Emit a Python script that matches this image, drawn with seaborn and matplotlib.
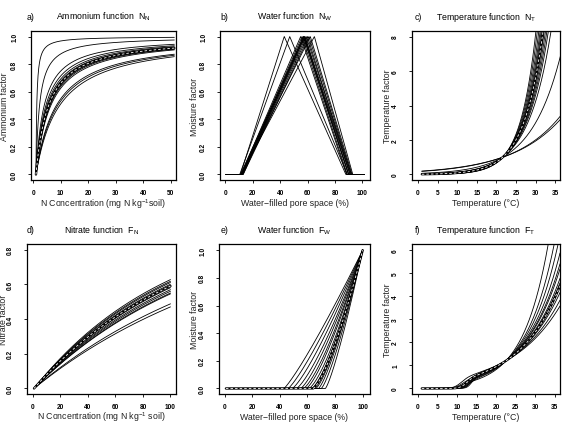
import numpy as np
import pandas as pd
import matplotlib.pyplot as plt
import seaborn as sns

# ---- values (one entry per curve) ----
# a) ammonium function N_N : half-saturation constants, curves start at N = 1
nh4_k = [0.3, 1.3, 3.0, 3.6, 4.0, 4.3, 4.5, 4.7, 4.9, 5.1, 5.4, 7.4, 7.9, 8.6]
nh4_k_mean = 4.6

# b) water function N_W : lower limit / optimum / upper limit of WFPS (%)
nw_low = [11, 10.5, 11.5, 12, 11, 12.5, 12, 11.5, 13, 12, 12.5, 13, 12, 11.5]
nw_opt = [43, 47, 55, 56, 57, 57, 57.5, 58, 58, 59, 60, 61, 62, 65]
nw_high = [88, 89, 88.5, 89, 90, 90, 91, 90, 91.5, 92, 91, 92, 92.5, 93]

# c) temperature function N_T : exponential rates, all curves = 1 at 21.6 C
nt_rate = [0.079, 0.083, 0.131, 0.172, 0.182, 0.188, 0.194, 0.2, 0.205, 0.21,
           0.216, 0.222, 0.23, 0.24, 0.25]
nt_rate_mean = 0.206
nt_tref = 21.6

# d) nitrate function F_N : saturation rates
no3_k = [0.00996, 0.0097, 0.00952, 0.00926, 0.00877, 0.0085, 0.00829,
         0.00806, 0.00795, 0.00675, 0.00641]
no3_k_mean = 0.009

# e) water function F_W : threshold WFPS (%) and curvature
fw_t0 = [43, 46, 49, 52, 55, 57, 59, 61, 63, 66, 68, 70, 73]
fw_pow = [1.15, 1.2, 1.25, 1.3, 1.3, 1.35, 1.35, 1.4, 1.4, 1.35, 1.3, 1.3, 1.25]
fw_t0_mean, fw_pow_mean = 64, 1.4

# f) temperature function F_T : rate, low-temperature cut-off centre and width
ft_rate = [0.153, 0.134, 0.124, 0.115, 0.109, 0.106, 0.1, 0.097, 0.09, 0.084, 0.079]
ft_mid = [10.8, 12.6, 11.4, 13.2, 11.9, 13.6, 11.2, 12.9, 12.2, 13.4, 10.9]
ft_width = [0.9, 0.8, 1.0, 0.7, 0.9, 0.6, 1.1, 0.8, 0.9, 0.7, 1.0]
ft_rate_mean, ft_mid_mean, ft_width_mean = 0.095, 12.3, 0.9
ft_tref, ft_fref = 22.5, 1.2


def f_nh4(n, k):
    return (n - 1) / (n - 1 + k)


def f_nw(w, lo, opt, hi):
    return np.interp(w, [lo, opt, hi], [0, 1, 0], left=0, right=0)


def f_nt(t, r):
    return np.exp(r * (t - nt_tref))


def f_no3(n, k):
    return 1 - np.exp(-k * (n - 1))


def f_fw(w, t0, p):
    return np.clip((w - t0) / (100 - t0), 0, None) ** p


def f_ft(t, r, m, s):
    return ft_fref * np.exp(r * (t - ft_tref)) / (1 + np.exp(-(t - m) / s))


def long_df(x, ys):
    return pd.DataFrame({"x": np.tile(x, len(ys)),
                         "y": np.concatenate(ys),
                         "curve": np.repeat(np.arange(len(ys)), len(x))})


def draw(ax, x, ys, mean=None):
    sns.lineplot(data=long_df(x, ys), x="x", y="y", units="curve", estimator=None,
                 color="black", lw=0.6, ax=ax, legend=False)
    if mean is not None:
        ax.plot(x, mean, color="black", lw=1.7)
        ax.plot(x, mean, color="white", lw=0.6, dashes=(3, 2.5))


sns.set_theme(style="ticks")
plt.rcParams["font.family"] = ["Liberation Sans", "DejaVu Sans"]
plt.rcParams["axes.edgecolor"] = "black"
plt.rcParams["text.color"] = "black"

W, H = 567, 427
fig = plt.figure(figsize=(W / 100, H / 100), dpi=100)


def box(l, r, t, b):
    return [l / W, 1 - b / H, (r - l) / W, (b - t) / H]


def style(ax, xlim, ylim, xticks, yticks, yfmt, xlabel, ylabel, letter, title,
          ylab_x, xlab_y, title_y, letter_x=0.0):
    ax.set_xlim(xlim)
    ax.set_ylim(ylim)
    ax.set_xticks(xticks)
    ax.set_xticklabels([str(v) for v in xticks])
    ax.set_yticks(yticks)
    ax.set_yticklabels([yfmt % v for v in yticks])
    ax.tick_params(length=2.2, width=0.6, direction="out", labelsize=4.7,
                   colors="black")
    ax.tick_params(axis="x", pad=4.3)
    ax.tick_params(axis="y", pad=7.0, labelrotation=90)
    for lab in ax.get_xticklabels() + ax.get_yticklabels():
        lab.set_fontweight("bold")
    for lab in ax.get_yticklabels():
        lab.set_va("center")
    for sp in ax.spines.values():
        sp.set_visible(True)
        sp.set_linewidth(0.9)
        sp.set_color("black")
    ax.set_xlabel(xlabel, fontsize=6.3, color="#222222")
    ax.set_ylabel(ylabel, fontsize=6.3, color="#222222")
    ax.xaxis.label.set_va("center")
    ax.yaxis.label.set_va("center")
    ax.xaxis.set_label_coords(0.5, xlab_y)
    ax.yaxis.set_label_coords(ylab_x, 0.5)
    ax.text(letter_x, title_y, letter, transform=ax.transAxes, ha="left",
            va="center", fontsize=6.3)
    ax.text(0.5, title_y, title, transform=ax.transAxes, ha="center", va="center",
            fontsize=6.3)


minus = "\u2212"

# a) ammonium
ax = fig.add_axes(box(31, 176, 32, 181))
n = np.linspace(1, 51.3, 600)
draw(ax, n, [f_nh4(n, k) for k in nh4_k], f_nh4(n, nh4_k_mean))
style(ax, (-0.8, 51.9), (-0.04, 1.04), range(0, 51, 10),
      [0, 0.2, 0.4, 0.6, 0.8, 1.0], "%.1f",
      r"N Concentration (mg N kg$\mathregular{^{-1}}$soil)", "Ammonium factor",
      "a)", r"Ammonium function  $\mathregular{N_N}$", -0.183, -0.154, 1.10, -0.03)

# b) water N_W
ax = fig.add_axes(box(220, 370, 32, 181))
w = np.linspace(0.5, 101.5, 800)
draw(ax, w, [f_nw(w, lo, op, hi) for lo, op, hi in zip(nw_low, nw_opt, nw_high)])
style(ax, (-3.9, 105.6), (-0.04, 1.04), range(0, 101, 20),
      [0, 0.2, 0.4, 0.6, 0.8, 1.0], "%.1f",
      "Water" + minus + "filled pore space (%)", "Moisture factor",
      "b)", r"Water function  $\mathregular{N_W}$", -0.17, -0.154, 1.10)

# c) temperature N_T
ax = fig.add_axes(box(412, 560, 32, 181))
t = np.linspace(1, 36.3, 600)
draw(ax, t, [f_nt(t, r) for r in nt_rate], f_nt(t, nt_rate_mean))
style(ax, (-1.5, 36.2), (-0.32, 8.32), range(0, 36, 5), [0, 2, 4, 6, 8], "%d",
      "Temperature (°C)", "Temperature factor",
      "c)", r"Temperature function  $\mathregular{N_T}$", -0.167, -0.154, 1.10,
      0.015)

# d) nitrate
ax = fig.add_axes(box(26.7, 176, 245, 395))
n = np.linspace(1, 100, 600)
draw(ax, n, [f_no3(n, k) for k in no3_k], f_no3(n, no3_k_mean))
style(ax, (-4.3, 104), (-0.032, 0.832), range(0, 101, 20),
      [0, 0.2, 0.4, 0.6, 0.8], "%.1f",
      r"N Concentration (mg N kg$\mathregular{^{-1}}$ soil)", "Nitrate factor",
      "d)", r"Nitrate function  $\mathregular{F_N}$", -0.155, -0.147, 1.098)

# e) water F_W
ax = fig.add_axes(box(219, 370, 245, 395))
w = np.linspace(1, 100, 800)
draw(ax, w, [f_fw(w, a, p) for a, p in zip(fw_t0, fw_pow)],
     f_fw(w, fw_t0_mean, fw_pow_mean))
style(ax, (-4.0, 105.3), (-0.04, 1.045), range(0, 101, 20),
      [0, 0.2, 0.4, 0.6, 0.8, 1.0], "%.1f",
      "Water" + minus + "filled pore space (%)", "Moisture factor",
      "e)", r"Water function  $\mathregular{F_W}$", -0.162, -0.147, 1.098, 0.01)

# f) temperature F_T
ax = fig.add_axes(box(412, 560, 245, 395))
t = np.linspace(1, 36.3, 700)
draw(ax, t, [f_ft(t, r, m, s) for r, m, s in zip(ft_rate, ft_mid, ft_width)],
     f_ft(t, ft_rate_mean, ft_mid_mean, ft_width_mean))
style(ax, (-1.5, 36.3), (-0.24, 6.26), range(0, 36, 5), range(0, 7), "%d",
      "Temperature (°C)", "Temperature factor",
      "f)", r"Temperature function  $\mathregular{F_T}$", -0.167, -0.147, 1.098,
      0.02)

fig.savefig("out.png", dpi=100)
